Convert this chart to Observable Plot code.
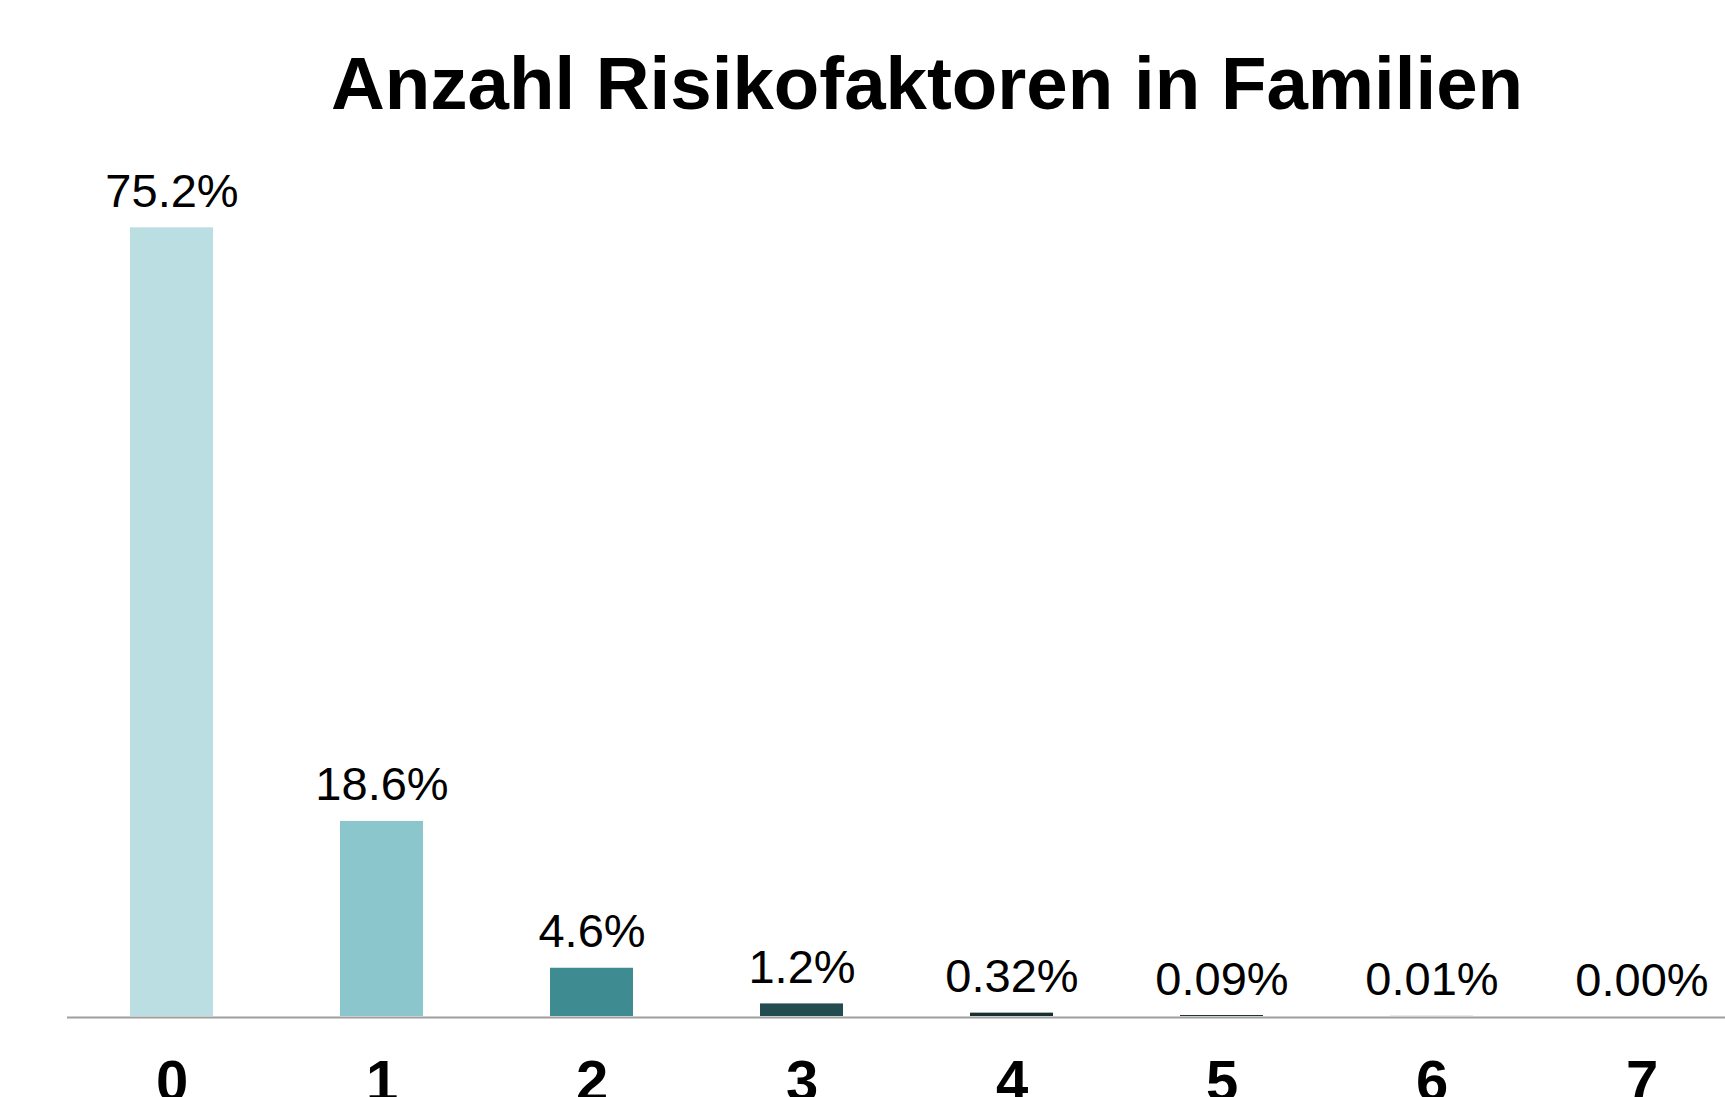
<!DOCTYPE html>
<html>
<head>
<meta charset="utf-8">
<script src="https://cdn.jsdelivr.net/npm/d3@7"></script>
<script src="https://cdn.jsdelivr.net/npm/@observablehq/plot@0.6"></script>
<style>
  html, body { margin: 0; padding: 0; background: #fff; overflow: hidden; width: 1725px; height: 1097px; }
  #title {
    box-sizing: border-box;
    width: 1725px; height: 140px;
    padding-top: 47px; padding-left: 129px;
    margin: 0;
    font-family: "Liberation Sans", Arial, sans-serif;
    font-weight: bold; font-size: 74.5px; line-height: 1;
    text-align: center; color: #000;
    white-space: nowrap;
  }
  #chart svg { display: block; }
</style>
</head>
<body>
<div id="title">Anzahl Risikofaktoren in Familien</div>
<div id="chart"></div>
<script>
const categories = ["0", "1", "2", "3", "4", "5", "6", "7"];
const values = [75.2, 18.6, 4.6, 1.2, 0.32, 0.09, 0.01, 0.00];
const valueLabels = ["75.2%", "18.6%", "4.6%", "1.2%", "0.32%", "0.09%", "0.01%", "0.00%"];
const colors = ["#BADEE2", "#8CC6CD", "#3E8B91", "#234C50", "#17302F", "#142A2C", "#112326", "#0E1E20"];

const data = categories.map((c, i) => ({cat: c, value: values[i], label: valueLabels[i], color: colors[i]}));

const W = 1725, H = 957;
const baseline = 876, topY = 37;

const chart = Plot.plot({
  width: W,
  height: H,
  marginLeft: 67,
  marginRight: 0,
  marginTop: topY,
  marginBottom: H - baseline,
  style: {fontFamily: "'Liberation Sans', Arial, sans-serif", background: "#fff", overflow: "visible"},
  x: {type: "band", domain: categories, range: [65.5, 1748.5], paddingInner: 0.604, paddingOuter: 0.3, align: 0.5, label: null},
  y: {domain: [0, 80], axis: null},
  color: {type: "identity"},
  marks: [
    Plot.barY(data, {x: "cat", y: "value", fill: "color"}),
    Plot.ruleY([0], {stroke: "#9E9E9E", strokeWidth: 2, dy: 1}),
    Plot.text(data, {x: "cat", y: "value", text: "label", lineAnchor: "bottom", dy: -21, fontSize: 47, fill: "#000"}),
    Plot.axisX({tickSize: 0, tickPadding: 43, fontSize: 58, fontWeight: "bold", fill: "#000", label: null})
  ]
});
document.getElementById("chart").appendChild(chart);
</script>
</body>
</html>
